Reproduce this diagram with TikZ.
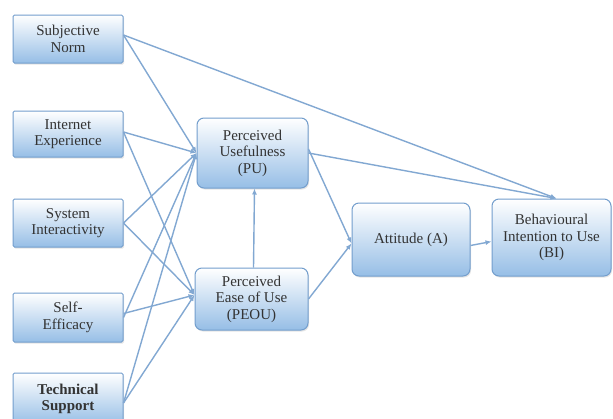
\documentclass[tikz,border=0pt]{standalone}
\usepackage{fontspec}
\setmainfont{Liberation Serif}
\newfontfamily\timesf{Liberation Serif}
\usetikzlibrary{arrows.meta,shadows}
\definecolor{lnblue}{RGB}{130,168,210}
\definecolor{bxborder}{RGB}{115,158,205}
\definecolor{bxbottom}{RGB}{150,190,230}
\begin{document}
\begin{tikzpicture}[x=1pt,y=-1pt,
  box/.style={draw=bxborder, line width=1pt, top color=white, bottom color=bxbottom,
    drop shadow={opacity=0.2, shadow xshift=1pt, shadow yshift=-1.5pt},
    align=center, font=\timesf\fontsize{15}{16.5}\selectfont, inner sep=1pt, text=black!80},
  sqbox/.style={box, rounded corners=1.5pt, minimum width=110pt},
  rbox/.style={box, rounded corners=7pt},
  conn/.style={draw=lnblue, line width=1.4pt, -{Latex[length=6pt,width=5pt]}}]
\useasboundingbox[fill=white] (0,0) rectangle (613,418);
\begin{scope}
\clip (0,0) rectangle (613,418);
\node[sqbox, minimum height=48pt] (sn) at (68,39) {Subjective\\Norm};
\node[sqbox, minimum height=46pt] (ie) at (68,134) {Internet\\Experience};
\node[sqbox, minimum height=48pt] (si) at (68,223) {System\\Interactivity};
\node[sqbox, minimum height=49pt] (se) at (68,317.5) {Self-\\Efficacy};
\node[sqbox, minimum height=52pt, font=\timesf\fontsize{15}{16.5}\selectfont\bfseries] (ts) at (68,399) {Technical\\Support};
\end{scope}
\node[rbox, minimum width=111pt, minimum height=70pt] (pu) at (252.5,153) {Perceived\\Usefulness\\(PU)};
\node[rbox, minimum width=113pt, minimum height=62pt] (peou) at (251.5,299) {Perceived\\Ease of Use\\(PEOU)};
\node[rbox, minimum width=118pt, minimum height=73pt] (att) at (411,239.5) {Attitude (A)};
\node[rbox, minimum width=119pt, minimum height=77pt] (bi) at (551.5,237.5) {Behavioural\\Intention to Use\\(BI)};
\coordinate (puin) at (pu.west);
\coordinate (peouin) at ([yshift=4pt]peou.west);
\coordinate (attin) at ([yshift=-4pt]att.west);
\coordinate (biin) at ([xshift=5pt]bi.north);
\foreach \s/\dy in {sn/4, ie/2, si/0, se/0, ts/-4}{
  \draw[conn] ([yshift=\dy pt]\s.east) -- (puin);
}
\foreach \s/\dy in {ie/2, si/0, se/4, ts/-4}{
  \draw[conn] ([yshift=\dy pt]\s.east) -- (peouin);
}
\draw[conn] ([yshift=4pt]sn.east) -- (biin);
\draw[conn] (pu.east) -- (biin);
\draw[conn] ([yshift=4pt]pu.east) -- (attin);
\draw[conn] (peou.east) -- (attin);
\draw[conn] ([xshift=2pt]peou.north) -- ([xshift=2pt]pu.south);
\draw[conn] ([yshift=-6pt]att.east) -- ([yshift=-4pt]bi.west);
\end{tikzpicture}
\end{document}
